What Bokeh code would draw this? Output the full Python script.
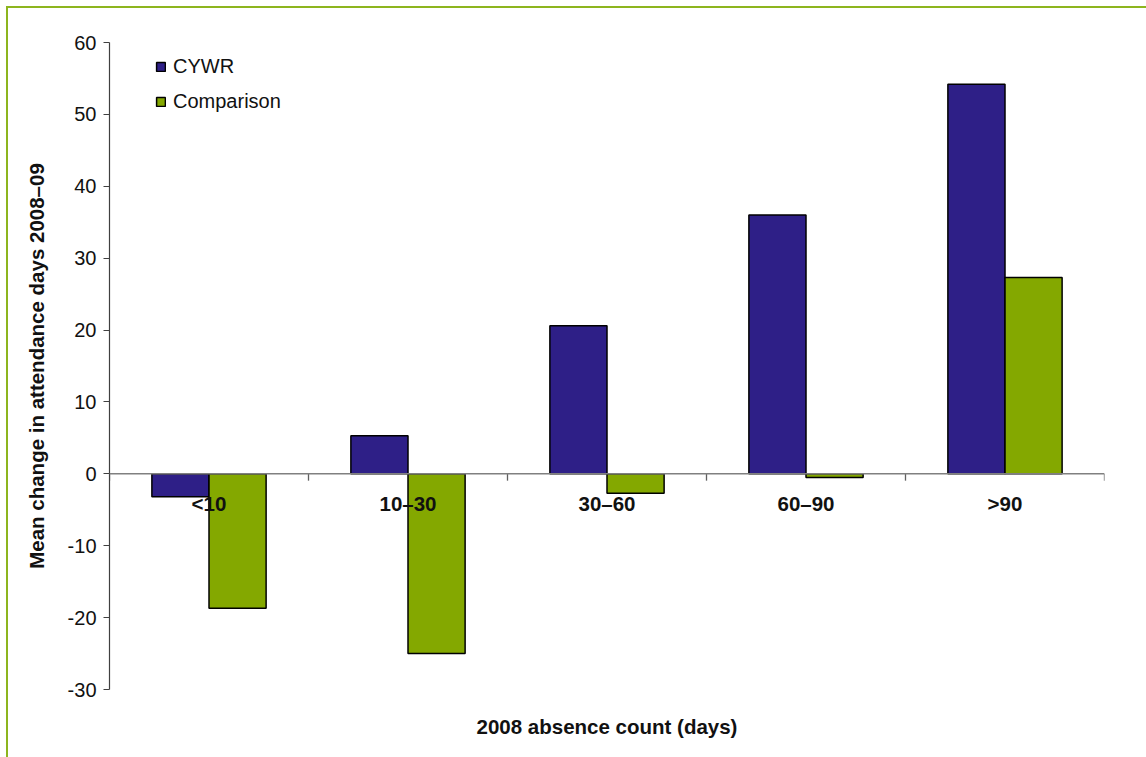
from bokeh.plotting import figure
from bokeh.models import ColumnDataSource, Range1d, FixedTicker, Legend, LegendItem, Span
from bokeh.embed import file_html
from bokeh.resources import INLINE
from bokeh.core.properties import value

categories = ["<10", "10\u201330", "30\u201360", "60\u201390", ">90"]
cywr = [-3.2, 5.3, 20.6, 36.0, 54.2]
comparison = [-18.7, -25.0, -2.7, -0.5, 27.3]
y_ticks = [-30, -20, -10, 0, 10, 20, 30, 40, 50, 60]

FONT = "Liberation Sans"
C1 = "#2E1F87"
C2 = "#84A800"
BORDER = "#8DB51E"

idx = list(range(len(categories)))
centers = [i + 0.5 for i in idx]
bw = 0.287
src = ColumnDataSource(dict(
    cat=categories,
    xc=centers,
    x1=[c - bw / 2 for c in centers],
    x2=[c + bw / 2 for c in centers],
    cywr=cywr,
    comp=comparison,
))

p = figure(
    width=1138, height=749,
    frame_width=995, frame_height=647,
    min_border_left=101, min_border_top=34, min_border_right=42, min_border_bottom=68,
    x_range=Range1d(0, len(categories)), y_range=Range1d(y_ticks[0], y_ticks[-1]),
    output_backend="svg", toolbar_location=None,
    background_fill_color="white", border_fill_color="white",
)
p.outline_line_color = None
p.grid.visible = False
p.styles = {"margin-left": "6px", "margin-top": "6px",
            "border-left": "2px solid " + BORDER, "border-top": "2px solid " + BORDER}

# y axis
ya = p.yaxis[0]
ya.ticker = FixedTicker(ticks=y_ticks)
ya.major_label_overrides = {t: str(t) for t in y_ticks}
ya.axis_line_color = "#404040"
ya.axis_line_width = 1.2
ya.major_tick_line_color = "#404040"
ya.major_tick_out = 6
ya.major_tick_in = 0
ya.minor_tick_out = 0
ya.minor_tick_in = 0
ya.major_label_text_font = FONT
ya.major_label_text_font_size = "20px"
ya.major_label_text_color = "#111111"
ya.major_label_standoff = 7
ya.axis_label = "Mean change in attendance days 2008\u201309"
ya.axis_label_text_font = FONT
ya.axis_label_text_font_style = "bold"
ya.axis_label_text_font_size = "20.5px"
ya.axis_label_text_color = "#111111"
ya.axis_label_standoff = 17

# x axis (title only)
xa = p.xaxis[0]
xa.ticker = FixedTicker(ticks=[])
xa.axis_line_color = None
xa.major_tick_out = 0
xa.major_tick_in = 0
xa.minor_tick_out = 0
xa.minor_tick_in = 0
xa.major_label_standoff = 0
xa.axis_label = "2008 absence count (days)"
xa.axis_label_text_font = FONT
xa.axis_label_text_font_style = "bold"
xa.axis_label_text_font_size = "20.5px"
xa.axis_label_text_color = "#111111"
xa.axis_label_standoff = 25

r1 = p.vbar(x="x1", top="cywr", bottom=0, width=bw, source=src,
            fill_color=C1, line_color="black", line_width=1.5)
r2 = p.vbar(x="x2", top="comp", bottom=0, width=bw, source=src,
            fill_color=C2, line_color="black", line_width=1.5)

# zero line and category boundary ticks
p.add_layout(Span(location=0, dimension="width", line_color="#808080", line_width=1.5))
bounds = list(range(len(categories) + 1))
p.segment(x0=bounds, x1=bounds, y0=[0] * len(bounds), y1=[-0.95] * len(bounds),
          line_color="#606060", line_width=1.3)

# category labels
p.text(x="xc", y=0, text="cat", source=src, text_font=value(FONT), text_font_style="bold",
       text_font_size="20.5px", text_align="center", text_baseline="middle", y_offset=30,
       text_color="#111111")

legend = Legend(items=[LegendItem(label="CYWR", renderers=[r1]),
                       LegendItem(label="Comparison", renderers=[r2])],
                location=(46, 576), orientation="vertical")
legend.border_line_color = None
legend.background_fill_alpha = 0
legend.padding = 0
legend.margin = 0
legend.spacing = 12
legend.glyph_width = 11
legend.glyph_height = 11
legend.label_height = 22
legend.label_standoff = 7
legend.label_text_font = FONT
legend.label_text_font_size = "20px"
legend.label_text_color = "#111111"
p.add_layout(legend)

open("out.html", "w").write(file_html(p, INLINE))
